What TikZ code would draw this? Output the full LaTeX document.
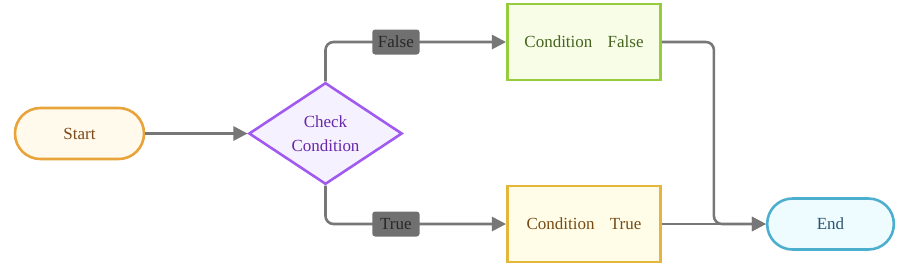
\documentclass[tikz,border=0pt]{standalone}
\usepackage{fontspec}
\setmainfont{Liberation Serif}
\usepackage{tikz}
\usetikzlibrary{calc, positioning, arrows.meta, shapes.geometric}
\definecolor{LineGrey}{RGB}{119,119,119}
\definecolor{StartFill}{RGB}{255,250,235}
\definecolor{StartLine}{RGB}{232,163,58}
\definecolor{StartText}{RGB}{122,72,26}
\definecolor{CheckFill}{RGB}{246,241,254}
\definecolor{CheckLine}{RGB}{160,90,240}
\definecolor{CheckText}{RGB}{104,40,170}
\definecolor{FalseFill}{RGB}{248,253,232}
\definecolor{FalseLine}{RGB}{150,205,60}
\definecolor{FalseText}{RGB}{70,100,30}
\definecolor{TrueFill}{RGB}{255,253,232}
\definecolor{TrueLine}{RGB}{228,182,58}
\definecolor{TrueText}{RGB}{120,75,20}
\definecolor{EndFill}{RGB}{238,252,255}
\definecolor{EndLine}{RGB}{75,175,205}
\definecolor{EndText}{RGB}{40,85,115}
\definecolor{TagFill}{RGB}{112,112,112}
\definecolor{TagText}{RGB}{40,40,40}

\begin{document}
\begin{tikzpicture}[
  x=0.03cm, y=-0.03cm,
  font=\fontsize{14.5}{21}\selectfont,
  terminal/.style={rounded rectangle box, line width=2.2pt, minimum width=3.87cm, minimum height=1.53cm, rounded corners=0.76cm},
  rounded rectangle box/.style={draw, rectangle, inner sep=0pt},
  decision/.style={draw, diamond, line width=2.2pt, inner sep=0pt, aspect=1.5, minimum width=4.6cm, minimum height=3.05cm, align=center},
  process/.style={draw, rectangle, line width=2.2pt, minimum width=4.6cm, minimum height=2.28cm},
  flow/.style={draw=LineGrey, line width=2.2pt, rounded corners=0.24cm, -{Triangle[length=12pt, width=12pt]}},
  tag/.style={fill=TagFill, text=TagText, rounded corners=2.5pt, inner sep=0pt, minimum width=1.42cm, minimum height=0.75cm},
]
\useasboundingbox (0,0) rectangle (907,267);

% Nodes
\node[terminal, fill=StartFill, draw=StartLine, text=StartText] (start) at (79.5,133.5) {Start};
\node[decision, fill=CheckFill, draw=CheckLine, text=CheckText] (check) at (325.5,133.5) {Check\\Condition};
\node[process, fill=FalseFill, draw=FalseLine, text=FalseText] (condfalse) at (584,42) {Condition\hspace{0.9em}False};
\node[process, fill=TrueFill, draw=TrueLine, text=TrueText] (condtrue) at (584,224) {Condition\hspace{0.9em}True};
\node[terminal, fill=EndFill, draw=EndLine, text=EndText, minimum width=3.8cm] (finish) at (830.5,224) {End};

% Connectors
\draw[flow] (start) -- (check);
\draw[flow] (check.north) |- (condfalse.west) node[tag, pos=0.695] (falsetag) {False};
\draw[flow] (check.south) |- (condtrue.west) node[tag, pos=0.695] (truetag) {True};
\draw[flow] (condtrue) -- (finish);
\coordinate (bend) at ($(condfalse.east)!0.5!(finish.west)$);
\draw[flow] (condfalse.east) -| (bend |- finish.west) -- (finish.west);

\end{tikzpicture}
\end{document}
